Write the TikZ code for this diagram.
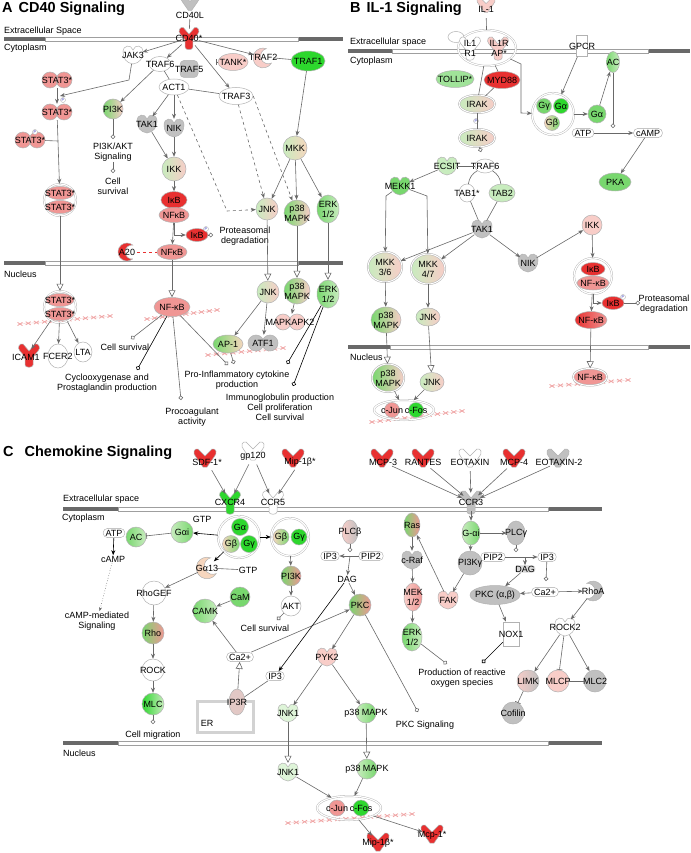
\documentclass[tikz,border=0pt]{standalone}
\usepackage{fontspec}
\setmainfont{Liberation Sans}
\usetikzlibrary{arrows.meta,shapes.geometric}
\definecolor{rd}{RGB}{232,48,48}
\definecolor{pk}{RGB}{240,150,148}
\definecolor{lpk}{RGB}{248,205,200}
\definecolor{gn}{RGB}{45,215,45}
\definecolor{mgn}{RGB}{120,215,110}
\definecolor{lgn}{RGB}{200,236,190}
\definecolor{gy}{RGB}{192,192,192}
\definecolor{bg}{RGB}{246,214,190}
\definecolor{ln}{RGB}{105,105,105}
\definecolor{memdark}{RGB}{105,105,105}
\definecolor{dnapk}{RGB}{240,165,165}
\tikzset{
  lbl/.style={font=\fontsize{9}{10}\selectfont, inner sep=0.5pt, align=center, text=black},
  every label/.style={lbl},
  ttl/.style={font=\fontsize{14.5}{15}\selectfont\bfseries, anchor=west, inner sep=0pt},
  memlbl/.style={font=\fontsize{9}{10}\selectfont, anchor=west, inner sep=0pt},
  mol/.style={draw=gray!60, line width=0.5pt, inner sep=0pt},
  ell/.style 2 args={mol, ellipse, minimum width=#1, minimum height=#2},
  circ/.style={mol, circle, minimum size=#1},
  grp/.style 2 args={ellipse, draw=gray!60, double=white, double distance=1.2pt, minimum width=#1, minimum height=#2, inner sep=0pt},
  kl/.style={ellipse, minimum width=20pt, minimum height=18pt, inner sep=0pt},
  chem/.style={lbl, draw=gray!70, fill=white, rounded corners=4.5pt, inner xsep=2.5pt, inner ysep=1.5pt},
  mix/.style 2 args={left color=#1, right color=#2},
  phos/.style={circle, draw=gray!60, fill=white, inner sep=0pt, minimum size=5pt, font=\fontsize{4}{4}\selectfont, text=blue!50!gray},
  act/.style={draw=ln, line width=0.6pt, -{Stealth[length=5pt,width=4pt]}},
  bact/.style={act, draw=black},
  dact/.style={act, dashed},
  inh/.style={draw=ln, line width=0.6pt, -{Bar[width=6pt]}},
  trl/.style={draw=ln, line width=0.6pt, -{Triangle[open,length=7pt,width=7pt]}},
  fnl/.style={draw=ln, line width=0.6pt, -{Circle[open,length=4.5pt]}},
  lnk/.style={draw=ln, line width=0.6pt},
  pics/kin/.style={code={\filldraw[draw=gray!60, line width=0.5pt, fill=#1] (0,9) .. controls (-7,8) and (-10,3) .. (-10,-3) .. controls (-10,-10) and (-2,-11) .. (0,-5) .. controls (2,-11) and (10,-10) .. (10,-3) .. controls (10,3) and (7,8) .. (0,9) -- cycle;}},
  pics/lig/.style={code={\filldraw[draw=gray!60, line width=0.5pt, fill=#1] (0,-3) -- (-7,-10) .. controls (-11,-11) and (-13,-6) .. (-9,-2) -- (-2,8) -- (2,8) -- (9,-2) .. controls (13,-6) and (11,-11) .. (7,-10) -- cycle;}},
  pics/rec/.style={code={\filldraw[draw=gray!60, line width=0.5pt, fill=#1] (0,-4) -- (-6,-11) .. controls (-10,-12) and (-12,-7) .. (-9,-4) -- (-4,2) -- (-4,10) .. controls (-4,13) and (4,13) .. (4,10) -- (4,2) -- (9,-4) .. controls (12,-7) and (10,-12) .. (6,-11) -- cycle;}},
  pics/dim/.style={code={\filldraw[draw=gray!60, line width=0.5pt, fill=#1] (-7,0) circle (8) (7,0) circle (8);}},
  pics/cres/.style 2 args={code={\filldraw[draw=gray!60, line width=0.5pt, fill=#1, rotate=#2] (50.7:9) arc[start angle=50.7, end angle=309.3, radius=9] arc[start angle=275.7, end angle=84.3, radius=7] -- cycle;}},
}
\newcommand{\membrane}[5]{%
  \fill[memdark] (#1,#5-2.2) rectangle (#2,#5+2.2);
  \fill[memdark] (#3,#5-2.2) rectangle (#4,#5+2.2);
  \draw[gray!75, fill=white, line width=0.7pt] (#2,#5-2) rectangle (#3,#5+2);}
\newcommand{\dnastrand}[5]{%
  \draw[dnapk!60, line width=0.3pt] (#1,#2) -- (#3,#4);
  \foreach \k [evaluate=\k as \xx using #1+(#3-#1)*\k/#5, evaluate=\k as \yy using #2+(#4-#2)*\k/#5] in {0,...,#5}
    \draw[dnapk, line width=0.8pt] (\xx-2.5,\yy-1.6) -- (\xx+2.5,\yy+1.6) (\xx-2.5,\yy+1.6) -- (\xx+2.5,\yy-1.6);}
\newcommand{\kinase}[4]{\pic at (#2) {kin=#3}; \node[kl, label={center:#4}] (#1) at (#2) {};}
\newcommand{\dimer}[4]{\pic at (#2) {dim=#3}; \node[kl, minimum width=30pt, minimum height=16pt, label={center:#4}] (#1) at (#2) {};}

\begin{document}
\begin{tikzpicture}[x=1pt,y=-1pt]
\path[use as bounding box, fill=white] (0,0) rectangle (690,853);

\membrane{4}{45}{298}{343}{39}
\membrane{4}{45}{298}{343}{263}
\membrane{348}{392}{648}{690}{51}
\membrane{348}{390}{648}{690}{347}
\membrane{63}{118}{548}{602}{509}
\membrane{63}{118}{548}{602}{743}

\dnastrand{20}{324}{110}{316}{11}
\dnastrand{147}{319}{217}{310}{9}
\dnastrand{208}{355}{283}{348}{9}
\dnastrand{372}{422}{462}{411}{11}
\dnastrand{552}{386}{628}{380}{9}
\dnastrand{288}{823}{412}{814}{15}
\draw[gray!35, line width=3pt] (197,701) rectangle (253,732);

\node[ttl] (ta) at (2,9) {A\hspace{6pt}CD40 Signaling};
\node[ttl] (tb) at (350,9) {B\hspace{6pt}IL-1 Signaling};
\node[ttl] (tc) at (3,453) {C\hspace{11pt}Chemokine Signaling};
\node[memlbl] (aext) at (4,31) {Extracellular Space};
\node[memlbl] (acyt) at (4,48) {Cytoplasm};
\node[memlbl] (anuc) at (4,274) {Nucleus};
\node[memlbl] (bext) at (350,42) {Extracellular space};
\node[memlbl] (bcyt) at (350,61) {Cytoplasm};
\node[memlbl] (bnuc) at (350,357) {Nucleus};
\node[memlbl] (cext) at (63,499) {Extracellular space};
\node[memlbl] (ccyt) at (62,518) {Cytoplasm};
\node[memlbl] (cnuc) at (63,753) {Nucleus};

\pic[scale=0.8] at (190,4) {lig=gy};
\node[lbl] (acd40l) at (190,15) {CD40L};
\pic[scale=0.95] at (189,38) {rec=rd};
\node[kl, label={center:CD40*}] (acd40) at (189,38) {};
\kinase{ajak3}{133,55}{white}{JAK3}
\node[ell={22pt}{15pt}, fill=white, label={center:TRAF6}] (atraf6) at (160,64) {};
\node[mol, fill=gy, rounded corners=4pt, minimum width=18pt, minimum height=17pt, label={center:TRAF5}] (atraf5) at (189,69) {};
\node[ell={30pt}{17pt}, fill=lpk, label={center:TANK*}] (atank) at (233,62) {};
\coordinate (atankx) at (216,62);
\pic[scale=1.1] at (263,58) {cres={lpk}{20}};
\node[kl, label={center:TRAF2}] (atraf2) at (263,57) {};
\node[ell={34pt}{20pt}, fill=gn, label={center:TRAF1}] (atraf1) at (308,61) {};
\dimer{astata}{57,80}{pk}{STAT3*}
\dimer{astatb}{57,112}{pk}{STAT3*}
\dimer{astatc}{30,140}{pk}{STAT3*}
\node[phos] (aph1) at (63,100) {P};
\node[phos] (aph2) at (35,132) {P};
\coordinate (ajakb) at (129,80);
\coordinate (astatj) at (60,96);
\coordinate (astatm) at (58,141);
\node[grp={32pt}{32pt}] (astatd) at (60,200) {};
\node[ell={28pt}{13pt}, fill=pk, label={center:STAT3*}] (astatd1) at (60,193) {};
\node[ell={28pt}{13pt}, fill=pk, label={center:STAT3*}] (astatd2) at (60,207) {};
\node[circ=20pt, mix={mgn}{lpk}, label={center:PI3K}] (api3k) at (113,109) {};
\coordinate (api3kf) at (113,139);
\node[lbl] (aakt) at (113,152) {PI3K/AKT\\Signaling};
\coordinate (asurvf) at (113,173);
\node[lbl] (asurv) at (113,186) {Cell\\survival};
\node[ell={30pt}{16pt}, fill=white, label={center:ACT1}] (aact1) at (174,87) {};
\node[ell={34pt}{17pt}, fill=white, label={center:TRAF3}] (atraf3) at (236,96) {};
\kinase{atak1}{147,124}{gy}{TAK1}
\kinase{anik}{174,128}{gy}{NIK}
\node[circ=24pt, mix={lgn}{lpk}, label={center:IKK}] (aikk) at (174,169) {};
\node[ell={26pt}{17pt}, fill=rd, label={center:IκB}] (aikb) at (174,200) {};
\node[ell={30pt}{15pt}, fill=pk, label={center:NFκB}] (anfkb) at (174,215) {};
\node[circ=24pt, mix={lgn}{bg}, label={center:MKK}] (amkk) at (295,148) {};
\node[circ=22pt, mix={lgn}{lpk}, label={center:JNK}] (ajnk) at (267,209) {};
\node[circ=26pt, mix={mgn}{lpk}, label={center:p38\\MAPK}] (ap38) at (297,213) {};
\node[ell={22pt}{28pt}, mix={mgn}{lgn}, label={center:ERK\\1/2}] (aerk) at (328,209) {};
\coordinate (adsh) at (227,211);
\node[ell={22pt}{13pt}, fill=rd, label={center:IκB}] (aikbp) at (197,235) {};
\node[phos] (aph3) at (206,229) {P};
\coordinate (aprotf) at (213,235);
\node[lbl] (aprot) at (245,236) {Proteasomal\\degradation};
\pic at (127,252) {cres={rd}{0}};
\node[kl, label={center:A20}] (aa20) at (127,252) {};
\node[ell={30pt}{15pt}, fill=pk, label={center:NFκB}] (anfkb2) at (172,252) {};

\node[grp={32pt}{32pt}] (astate) at (60,307) {};
\node[ell={28pt}{13pt}, fill=pk, label={center:STAT3*}] (astate1) at (60,300) {};
\node[ell={28pt}{13pt}, fill=pk, label={center:STAT3*}] (astate2) at (60,314) {};
\pic at (29,355) {rec=rd};
\node[kl, label={center:ICAM1}] (aicam) at (26,357) {};
\node[ell={20pt}{24pt}, fill=white, label={center:FCER2}] (afcer) at (58,356) {};
\node[ell={18pt}{20pt}, fill=white, label={center:LTA}] (alta) at (83,352) {};
\node[ell={36pt}{19pt}, fill=pk, label={center:NF-κB}] (anfkbn) at (172,307) {};
\node[circ=22pt, mix={lgn}{lpk}, label={center:JNK}] (ajnkn) at (268,292) {};
\node[circ=26pt, mix={mgn}{lpk}, label={center:p38\\MAPK}] (ap38n) at (297,291) {};
\node[ell={22pt}{28pt}, mix={mgn}{lgn}, label={center:ERK\\1/2}] (aerkn) at (328,294) {};
\dimer{amapk}{290,322}{lpk}{MAPKAPK2}
\node[ell={30pt}{18pt}, mix={mgn}{bg}, label={center:AP-1}] (aap1) at (228,344) {};
\dimer{aatf1}{263,343}{gy}{ATF1}
\coordinate (acsf) at (131,339);
\coordinate (acoxf) at (137,370);
\coordinate (aprof) at (181,400);
\coordinate (apif1) at (228,365);
\coordinate (apif2) at (234,364);
\coordinate (aimf1) at (287,364);
\coordinate (aimf2) at (293,386);
\node[lbl] (acs) at (125,347) {Cell survival};
\node[lbl] (acox) at (107,383) {Cyclooxygenase and\\Prostaglandin production};
\node[lbl] (aproc) at (192,417) {Procoagulant\\activity};
\node[lbl] (apic) at (237,380) {Pro-Inflammatory cytokine\\production};
\node[lbl] (aimm) at (280,407) {Immunoglobulin production\\Cell proliferation\\Cell survival};

\draw[lnk] (acd40l) -- (acd40);
\draw[act] (acd40) -- (ajak3);
\draw[act] (acd40) -- (atraf6);
\draw[act] (acd40) -- (atraf2);
\draw[act] (acd40) -- (atraf3);
\draw[inh] (atank) -- (atankx);
\draw[lnk] (atraf2) -- (atraf1);
\draw[act] (atraf1) -- (amkk);
\draw[act] (ajak3) -- (ajakb) -- (astatj);
\draw[act] (astata) -- (astatb);
\draw[lnk] (astatc) -- (astatm);
\draw[act] (astatb) -- (astatd);
\draw[trl] (astatd) -- (astate);
\draw[act] (atraf6) -- (api3k);
\draw[fnl] (api3k) -- (api3kf);
\draw[fnl] (aakt) -- (asurvf);
\draw[lnk] (atraf6) -- (aact1);
\draw[lnk] (aact1) -- (atraf3);
\draw[act] (aact1) -- (atak1);
\draw[act] (aact1) -- (anik);
\draw[act] (atak1) -- (aikk);
\draw[act] (anik) -- (aikk);
\draw[act] (aikk) -- (aikb);
\draw[dact] (aact1) -- (adsh) -- (ajnk);
\draw[dact] (atraf3) -- (ajnk);
\draw[dact] (atraf3.east) -- (ap38);
\draw[act] (amkk) -- (ajnk);
\draw[act] (amkk) -- (ap38);
\draw[act] (amkk) -- (aerk);
\draw[act] (anfkb.south) |- (aikbp);
\draw[act] (anfkb) -- (anfkb2);
\draw[fnl] (aikbp) -- (aprotf);
\draw[dashed, rd, line width=0.6pt] (aa20) -- (anfkb2);
\draw[trl] (anfkb2) -- (anfkbn);
\draw[trl] (ajnk) -- (ajnkn);
\draw[trl] (ap38) -- (ap38n);
\draw[trl] (aerk) -- (aerkn);
\draw[act] (astate) -- (aicam);
\draw[act] (astate) -- (afcer);
\draw[act] (astate) -- (alta);
\draw[fnl] (anfkbn) -- (acsf);
\draw[fnl, draw=black] (anfkbn) -- (acoxf);
\draw[fnl] (anfkbn) -- (aprof);
\draw[fnl] (anfkbn) -- (apif1);
\draw[act] (ap38n) -- (amapk);
\draw[act] (ajnkn) -- (aap1);
\draw[act] (ajnkn) -- (aatf1);
\draw[fnl] (aap1) -- (apif2);
\draw[fnl, draw=black] (aerkn) -- (aimf1);
\draw[fnl, draw=black] (aerkn) -- (aimf2);

\pic[scale=0.8] at (486,6) {lig=lpk};
\node[kl, label={center:IL-1}] (bil1) at (486,9) {};
\node[ell={16pt}{11pt}, fill=white] (bblob) at (456,37) {};
\node[grp={58pt}{36pt}] (bil1r) at (487,48) {};
\pic at (470,48) {rec=white};
\node[kl, label={center:IL1\\R1}] (bil1r1) at (470,48) {};
\pic at (498,48) {rec=lpk};
\node[kl, label={center:IL1R\\AP*}] (bil1rap) at (499,48) {};
\node[mol, fill=white, minimum width=11pt, minimum height=21pt, label={center:GPCR}] (bgpcr) at (582,46) {};
\node[ell={13pt}{21pt}, mix={mgn}{lgn}, label={center:AC}] (bac) at (613,62) {};
\node[ell={38pt}{17pt}, fill=mgn!70!white, label={center:TOLLIP*}] (btollip) at (455,79) {};
\node[ell={36pt}{17pt}, fill=rd, label={center:MYD88}] (bmyd) at (502,80) {};
\node[ell={36pt}{18pt}, mix={lgn}{lpk}, double=white, double distance=1pt, label={center:IRAK}] (birak) at (477,104) {};
\node[ell={36pt}{18pt}, mix={lgn}{lpk}, double=white, double distance=1pt, label={center:IRAK}] (birak2) at (477,138) {};
\node[phos] (bph1) at (476,121) {P};
\coordinate (btrf) at (481,152);
\coordinate (bj1) at (521,64);
\coordinate (bj2) at (521,113);
\node[grp={42pt}{42pt}] (bgc) at (553,114) {};
\node[circ=15pt, fill=mgn, label={center:Gγ}] (bgg) at (544,106) {};
\node[circ=15pt, fill=gn, label={center:Gα}] (bgal) at (561,106) {};
\node[circ=15pt, mix={bg}{mgn}, label={center:Gβ}] (bgb) at (552,123) {};
\node[circ=18pt, fill=mgn, label={center:Gα}] (bga) at (597,114) {};
\node[chem] (batp) at (583,133) {ATP};
\node[chem] (bcamp) at (648,133) {cAMP};
\coordinate (bacf) at (613,128);
\node[ell={32pt}{18pt}, fill=mgn, label={center:PKA}] (bpka) at (615,182) {};
\kinase{becsit}{447,166}{lgn}{ECSIT}
\node[ell={20pt}{14pt}, fill=white, label={center:TRAF6}] (btraf6) at (485,166) {};
\kinase{bmekk}{400,186}{mgn}{MEKK1}
\coordinate (bm1) at (386,196);
\coordinate (bm2) at (427,196);
\node[ell={16pt}{18pt}, fill=white, label={center:TAB1*}] (btab1) at (467,193) {};
\node[ell={26pt}{18pt}, fill=lgn, label={center:TAB2}] (btab2) at (502,193) {};
\kinase{btak1}{482,229}{gy}{TAK1}
\node[circ=20pt, fill=lpk, label={center:IKK}] (bikk) at (592,225) {};
\node[ell={34pt}{30pt}, mix={lgn}{lpk}, double=white, double distance=1pt, label={center:MKK\\3/6}] (bmkk36) at (385,267) {};
\node[ell={34pt}{30pt}, mix={lgn}{lpk}, double=white, double distance=1pt, label={center:MKK\\4/7}] (bmkk47) at (428,269) {};
\kinase{bnik}{528,263}{gy}{NIK}
\node[grp={38pt}{36pt}] (bikbc) at (593,276) {};
\node[ell={24pt}{13pt}, fill=rd, label={center:IκB}] (bikb) at (593,269) {};
\node[ell={32pt}{14pt}, fill=pk, label={center:NF-κB}] (bnfkbc) at (593,283) {};
\node[ell={22pt}{13pt}, fill=rd, label={center:IκB}] (bikbp) at (613,303) {};
\node[phos] (bph2) at (623,297) {P};
\coordinate (bprotf) at (640,303);
\node[lbl] (bprot) at (664,304) {Proteasomal\\degradation};
\node[ell={32pt}{17pt}, mix={rd}{pk}, label={center:NF-κB}] (bnfkb) at (591,320) {};
\node[ell={30pt}{26pt}, mix={mgn}{lpk}, label={center:p38\\MAPK}] (bp38) at (386,320) {};
\node[ell={24pt}{18pt}, mix={lgn}{lpk}, label={center:JNK}] (bjnk) at (428,317) {};
\node[ell={32pt}{28pt}, mix={mgn}{lpk}, double=white, double distance=1pt, label={center:p38\\MAPK}] (bp38n) at (388,378) {};
\node[ell={24pt}{19pt}, mix={lgn}{lpk}, label={center:JNK}] (bjnkn) at (432,382) {};
\node[grp={60pt}{20pt}] (bap1) at (404,410) {};
\node[circ=15pt, fill=pk, label={center:c-Jun}] (bcjun) at (392,410) {};
\node[circ=15pt, fill=gn, label={center:c-Fos}] (bcfos) at (416,410) {};
\node[ell={34pt}{17pt}, fill=pk, double=white, double distance=1pt, label={center:NF-κB}] (bnfkbn) at (590,377) {};

\draw[lnk] (bil1) -- (bil1r);
\draw[lnk] (bil1r) -- (birak);
\draw[lnk] (bil1r) -- (bmyd);
\draw[lnk] (bmyd) -- (birak);
\draw[act] (bil1r) -- (bj1) -- (bj2) -- (bgc);
\draw[act] (bgpcr) -- (bgc);
\draw[act] (bgc) -- (bga);
\draw[act] (bga) -- (bac);
\draw[fnl] (bac) -- (bacf);
\draw[act] (batp) -- (bcamp);
\draw[act] (bcamp) -- (bpka);
\draw[lnk] (birak) -- (birak2);
\draw[fnl] (birak2) -- (btrf);
\draw[lnk] (becsit) -- (btraf6);
\draw[act] (becsit) -- (bmekk);
\draw[lnk] (btraf6) to[bend right=25] (btab1);
\draw[lnk] (btraf6) to[bend left=25] (btab2);
\draw[lnk] (btab1) -- (btak1);
\draw[lnk] (btab2) -- (btak1);
\draw[act] (bmekk) -- (bm1) -- (bmkk36);
\draw[act] (bmekk) -- (bm2) -- (bmkk47);
\draw[act] (btak1) -- (bmkk36);
\draw[act] (btak1) -- (bmkk47);
\draw[act] (btak1) -- (bnik);
\draw[act] (bnik) -- (bikk);
\draw[act] (bikk) -- (bikbc);
\draw[act] (bikbc.south) |- (bikbp);
\draw[act] (bikbc) -- (bnfkb);
\draw[fnl] (bikbp) -- (bprotf);
\draw[trl] (bnfkb) -- (bnfkbn);
\draw[act] (bmkk36) -- (bp38);
\draw[act] (bmkk47) -- (bjnk);
\draw[trl] (bp38) -- (bp38n);
\draw[trl] (bjnk) -- (bjnkn);
\draw[act] (bp38n) -- (bap1);
\draw[act] (bjnkn) -- (bap1);

\pic at (205,459) {lig=rd};
\node[kl, label={center:SDF-1*}] (csdf) at (207,462) {};
\pic at (253,452) {lig=white};
\node[kl, label={center:gp120}] (cgp) at (253,456) {};
\pic at (293,459) {lig=rd};
\node[kl, label={center:Mip-1β*}] (cmip) at (300,462) {};
\pic at (382,459) {lig=rd};
\node[kl, label={center:MCP-3}] (cmcp3) at (383,462) {};
\pic at (423,459) {lig=rd};
\node[kl, label={center:RANTES}] (crantes) at (423,462) {};
\pic at (470,459) {lig=white};
\node[kl, label={center:EOTAXIN}] (ceot) at (470,462) {};
\pic at (514,459) {lig=rd};
\node[kl, label={center:MCP-4}] (cmcp4) at (514,462) {};
\pic at (558,459) {lig=gy};
\node[kl, label={center:EOTAXIN-2}] (ceot2) at (559,462) {};
\pic at (230,502) {rec=gn};
\node[kl, label={center:CXCR4}] (ccxcr4) at (230,502) {};
\pic at (273,502) {rec=white};
\node[kl, label={center:CCR5}] (cccr5) at (273,502) {};
\pic at (471,502) {rec=gy};
\node[kl, label={center:CCR3}] (cccr3) at (471,502) {};

\node[circ=22pt, mix={lgn}{mgn}, label={center:Gαi}] (cgai) at (182,532) {};
\node[lbl] (cgtp1) at (202,519) {GTP};
\node[circ=20pt, mix={mgn}{lgn}, label={center:AC}] (cac) at (136,537) {};
\node[chem] (catp) at (114,533) {ATP};
\node[lbl] (ccamp) at (113,559) {cAMP};
\node[lbl] (ccampm) at (97,621) {cAMP-mediated\\Signaling};
\node[grp={42pt}{42pt}] (cgc) at (239,537) {};
\node[circ=17pt, fill=gn, label={center:Gα}] (cgal) at (240,527) {};
\node[circ=17pt, mix={bg}{mgn}, label={center:Gβ}] (cgb1) at (231,544) {};
\node[circ=17pt, fill=gn, label={center:Gγ}] (cgg1) at (249,544) {};
\node[grp={38pt}{38pt}] (cgbg) at (290,537) {};
\node[circ=16pt, mix={bg}{mgn}, label={center:Gβ}] (cgb2) at (281,537) {};
\node[circ=16pt, fill=gn, label={center:Gγ}] (cgg2) at (299,537) {};
\pic[scale=1.2] at (207,568) {cres={bg}{20}};
\node[kl, label={center:Gα13}] (cga13) at (207,568) {};
\node[lbl] (cgtp2) at (248,570) {GTP};
\node[circ=20pt, mix={mgn}{pk}, label={center:PI3K}] (cpi3k) at (291,576) {};
\node[circ=20pt, fill=white, label={center:AKT}] (cakt) at (291,606) {};
\coordinate (caktf) at (277,620);
\node[lbl] (csurv) at (265,628) {Cell survival};
\node[circ=24pt, fill=white, label={center:RhoGEF}] (crhogef) at (154,593) {};
\node[circ=22pt, mix={mgn}{pk}, label={center:Rho}] (crho) at (153,633) {};
\node[circ=22pt, fill=white, label={center:ROCK}] (crock) at (153,670) {};
\node[circ=22pt, mix={gn}{lgn}, label={center:MLC}] (cmlc) at (153,704) {};
\coordinate (cmlcf) at (153,724);
\node[lbl] (cmig) at (153,735) {Cell migration};
\node[circ=20pt, fill=mgn, label={center:CaM}] (ccam) at (240,597) {};
\node[circ=24pt, mix={mgn}{lgn}, label={center:CAMK}] (ccamk) at (205,611) {};
\node[chem] (cca) at (240,657) {Ca2+};
\node[ell={16pt}{24pt}, mix={lpk}{gy}, label={center:PLCβ}] (cplcb) at (350,532) {};
\coordinate (cplcbf) at (350,552);
\node[chem] (cip3a) at (330,556) {IP3};
\node[chem] (cpip2a) at (371,556) {PIP2};
\coordinate (cpj) at (350,556);
\node[lbl] (cdag) at (347,579) {DAG};
\node[circ=22pt, mix={mgn}{pk}, label={center:PKC}] (cpkc) at (360,605) {};
\node[chem] (cip3b) at (275,676) {IP3};
\node[ell={16pt}{26pt}, fill=lpk!60!gy, label={center:IP3R}] (cip3r) at (237,702) {};
\node[lbl] (cer) at (207,723) {ER};
\kinase{cpyk2}{327,657}{lpk}{PYK2}
\kinase{cjnk1}{288,713}{lgn!60!white}{JNK1}
\node[circ=20pt, mix={lgn}{mgn}, label={center:p38 MAPK}] (cp38) at (366,713) {};
\coordinate (cpkcf) at (418,712);
\node[lbl] (cpkcs) at (425,725) {PKC Signaling};
\node[ell={16pt}{24pt}, mix={mgn}{pk}, label={center:Ras}] (cras) at (412,525) {};
\node[ell={18pt}{24pt}, mix={lgn}{mgn}, label={center:G-αi}] (cgai2) at (471,533) {};
\node[ell={18pt}{24pt}, fill=gy, label={center:PLCγ}] (cplcg) at (516,533) {};
\kinase{craf}{412,560}{gy}{c-Raf}
\node[circ=24pt, fill=gy, label={center:PI3Kγ}] (cpi3kg) at (470,563) {};
\node[chem] (cpip2b) at (493,557) {PIP2};
\node[chem] (cip3c) at (547,557) {IP3};
\coordinate (cplcgf) at (516,552);
\coordinate (cpj2) at (525,557);
\node[lbl, fill=gy!60, rounded corners=3pt] (cdag2) at (525,569) {DAG};
\coordinate (cip3f) at (546,581);
\node[chem] (cca2) at (545,592) {Ca2+};
\node[ell={50pt}{19pt}, fill=gy, label={center:{PKC (α,β)}}] (cpkcab) at (495,595) {};
\pic[scale=1.1] at (593,591) {cres={gy}{180}};
\node[kl, label={center:RhoA}] (crhoa) at (593,591) {};
\kinase{crock2}{565,627}{white}{ROCK2}
\kinase{cfak}{448,600}{lpk}{FAK}
\node[ell={18pt}{28pt}, mix={lpk}{pk}, label={center:MEK\\1/2}] (cmek) at (413,597) {};
\node[ell={20pt}{28pt}, mix={mgn}{lgn}, label={center:ERK\\1/2}] (cerk) at (412,637) {};
\node[mol, fill=white, cylinder, shape border rotate=90, aspect=0.3, minimum width=16pt, minimum height=24pt, label={center:NOX1}] (cnox) at (511,634) {};
\coordinate (cnoxf) at (482,663);
\coordinate (cerkf) at (447,664);
\node[lbl] (cros) at (462,678) {Production of reactive\\oxygen species};
\node[circ=22pt, mix={lpk}{gy}, label={center:LIMK}] (climk) at (528,681) {};
\node[circ=22pt, fill=lpk, label={center:MLCP}] (cmlcp) at (558,681) {};
\node[circ=22pt, fill=gy, label={center:MLC2}] (cmlc2) at (595,681) {};
\node[circ=22pt, fill=gy, label={center:Cofilin}] (ccof) at (513,713) {};

\kinase{cjnk1n}{288,772}{lgn!60!white}{JNK1}
\node[circ=20pt, mix={lgn}{mgn}, label={center:p38 MAPK}] (cp38n) at (367,769) {};
\node[grp={64pt}{24pt}] (cap1) at (349,808) {};
\node[circ=16pt, fill=pk, label={center:c-Jun}] (ccjun) at (337,808) {};
\node[circ=16pt, fill=gn, label={center:c-Fos}] (ccfos) at (361,808) {};
\pic at (378,843) {lig=rd};
\node[kl, label={center:Mip-1β*}] (cmipo) at (378,843) {};
\pic at (432,835) {lig=rd};
\node[kl, label={center:Mcp-1*}] (cmcp) at (432,835) {};

\draw[act] (csdf) -- (ccxcr4);
\draw[act] (cgp) -- (ccxcr4);
\draw[act] (cgp) -- (cccr5);
\draw[act] (cmip) -- (cccr5);
\draw[act] (cmcp3) -- (cccr3);
\draw[act] (crantes) -- (cccr3);
\draw[act] (ceot) -- (cccr3);
\draw[act] (cmcp4) -- (cccr3);
\draw[act] (ceot2) -- (cccr3);
\draw[act] (cccr3) -- (cgai2);
\draw[bact] (cgc) -- (cgai);
\draw[bact] (cgc) -- (cgbg);
\draw[bact] (cgc) -- (cga13);
\draw[inh] (cgai) -- (cac);
\draw[bact] (catp) -- (ccamp);
\draw[draw=ln, dotted, line width=0.6pt, -{Stealth[length=4pt,width=3pt]}] (ccamp) -- (ccampm);
\draw[lnk] (cga13) -- (cgtp2);
\draw[act] (cgbg) -- (cpi3k);
\draw[act] (cpi3k) -- (cakt);
\draw[fnl] (cakt) -- (caktf);
\draw[act] (cga13) -- (crhogef);
\draw[act] (crhogef) -- (crho);
\draw[act] (crho) -- (crock);
\draw[act] (crock) -- (cmlc);
\draw[fnl] (cmlc) -- (cmlcf);
\draw[act] (ccam) -- (ccamk);
\draw[act] (cca) -- (ccamk);
\draw[act] (cca) -- (cpkc);
\draw[fnl] (cplcb) -- (cplcbf);
\draw[act] (cpip2a) -- (cip3a);
\draw[act] (cpj) -- (cdag);
\draw[act] (cdag) -- (cpkc);
\draw[bact] (cdag) -- (cip3b);
\draw[lnk] (cip3b) -- (cip3r);
\draw[trl] (cip3r) -- (cca);
\draw[act] (cpkc) -- (cpyk2);
\draw[fnl] (cpkc) -- (cpkcf);
\draw[act] (cpyk2) -- (cjnk1);
\draw[act] (cpyk2) -- (cp38);
\draw[act] (cgai2) -- (cplcg);
\draw[act] (cgai2) -- (cpi3kg);
\draw[act] (cras) -- (craf);
\draw[act] (craf) -- (cmek);
\draw[act] (cmek) -- (cerk);
\draw[fnl] (cerk) -- (cerkf);
\draw[act] (cpi3kg) -- (cfak);
\draw[act] (cfak) -- (cras);
\draw[act] (cpip2b) -- (cip3c);
\draw[fnl] (cplcg) -- (cplcgf);
\draw[act] (cpj2) -- (cdag2);
\draw[act] (cdag2) -- (cpkcab);
\draw[fnl] (cip3c) -- (cip3f);
\draw[act] (cca2) -- (cpkcab);
\draw[act] (cca2) -- (crhoa);
\draw[act] (cpkcab) -- (cnox);
\draw[fnl, draw=black] (cnox) -- (cnoxf);
\draw[act] (crhoa) -- (crock2);
\draw[act] (crock2) -- (climk);
\draw[inh] (crock2) -- (cmlcp);
\draw[act] (crock2) -- (cmlc2);
\draw[lnk] (cmlcp) -- (cmlc2);
\draw[inh] (climk) -- (ccof);
\draw[trl] (cjnk1) -- (cjnk1n);
\draw[trl] (cp38) -- (cp38n);
\draw[act] (cjnk1n) -- (cap1);
\draw[act] (cp38n) -- (cap1);
\draw[act] (cap1) -- (cmipo);
\draw[act] (cap1) -- (cmcp);
\end{tikzpicture}
\end{document}
